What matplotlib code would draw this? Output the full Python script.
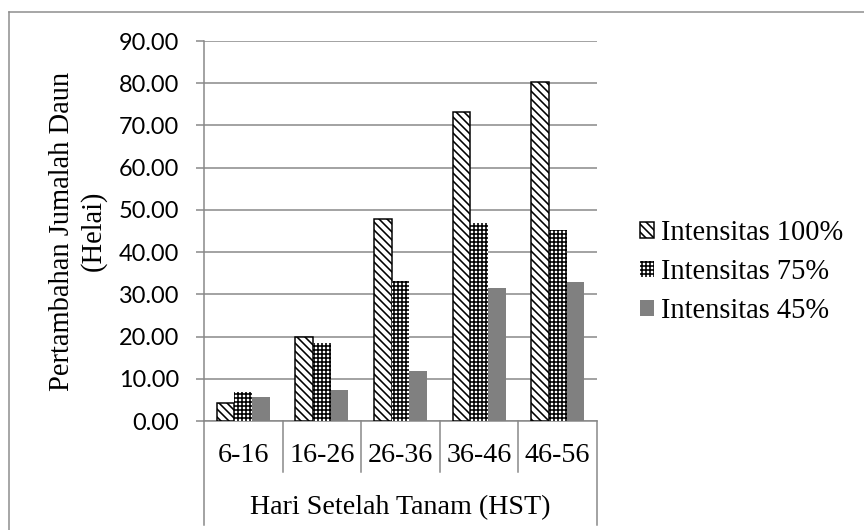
import matplotlib.pyplot as plt
import matplotlib.transforms as mtransforms
from matplotlib.lines import Line2D
import numpy as np

categories = ["6-16", "16-26", "26-36", "36-46", "46-56"]
intensitas_100 = [4.35, 19.9, 47.8, 73.3, 80.3]
intensitas_75 = [6.8, 18.5, 33.2, 46.9, 45.2]
intensitas_45 = [5.6, 7.3, 11.9, 31.4, 32.9]
series_labels = ["Intensitas 100%", "Intensitas 75%", "Intensitas 45%"]
y_ticks = np.arange(0, 91, 10)

serif = "Liberation Serif"
grid_gray = "#878787"
plt.rcParams["hatch.linewidth"] = 1.6

W, H = 864, 530
fig = plt.figure(figsize=(W / 72, H / 72), dpi=72)
ax = fig.add_axes([204 / W, 1 - 421 / H, (597 - 204) / W, (421 - 41) / H])

x = np.arange(len(categories))
bw = 0.224
ax.bar(x - bw, intensitas_100, bw, facecolor="white", edgecolor="black",
       linewidth=1.5, hatch="\\\\\\", label=series_labels[0], zorder=3)
ax.bar(x, intensitas_75, bw, facecolor="white", edgecolor="black",
       linewidth=0, hatch="+++", label=series_labels[1], zorder=3)
ax.bar(x + bw, intensitas_45, bw, facecolor="#808080", edgecolor="none",
       label=series_labels[2], zorder=3)

ax.set_xlim(-0.5, len(categories) - 0.5)
ax.set_ylim(0, 90)
ax.set_yticks(y_ticks)
ax.set_yticklabels([f"{v:.2f}" for v in y_ticks], fontfamily="Lato", fontsize=23.5)
ax.tick_params(axis="y", length=8, width=1.5, color=grid_gray, pad=17)
ax.set_xticks([])
ax.yaxis.grid(True, color=grid_gray, linewidth=1.5, zorder=0)
ax.set_axisbelow(True)
for side in ["top", "right"]:
    ax.spines[side].set_visible(False)
for side in ["left", "bottom"]:
    ax.spines[side].set_color(grid_gray)
    ax.spines[side].set_linewidth(1.5)

# category table below the axis
trans = mtransforms.blended_transform_factory(ax.transData, ax.transAxes)
for b in np.arange(-0.5, len(categories), 1.0):
    outer = b < 0 or b > len(categories) - 1
    y_end = -104 / 380 if outer else -51 / 380
    ax.plot([b, b], [0, y_end], color=grid_gray, linewidth=1.5,
            transform=trans, clip_on=False)
for xi, lab in zip(x, categories):
    ax.text(xi, -34 / 380, lab, transform=trans, ha="center", va="center",
            fontfamily=serif, fontsize=28)
ax.text(0.5, -87 / 380, "Hari Setelah Tanam (HST)", transform=ax.transAxes,
        ha="center", va="center", fontfamily=serif, fontsize=28)

fig.text(78 / W, 1 - 231 / H, "Pertambahan Jumalah Daun\n(Helai)", rotation=90,
         ha="center", va="center", fontfamily=serif, fontsize=28.5)

ax.legend(loc="center left", bbox_to_anchor=(640 / W, 1 - 272 / H),
          bbox_transform=fig.transFigure, frameon=False, borderpad=0,
          borderaxespad=0, handlelength=0.5, handleheight=0.5,
          handletextpad=0.25, labelspacing=0.45,
          prop={"family": serif, "size": 28.5})

# outer chart frame
fx, fy = 9 / W, 1 - 12 / H
fig.add_artist(Line2D([fx, 1.0], [fy, fy], color="#8c8c8c", linewidth=1.5,
                      transform=fig.transFigure))
fig.add_artist(Line2D([fx, fx], [fy, 0.0], color="#8c8c8c", linewidth=1.5,
                      transform=fig.transFigure))

fig.savefig("out.png", dpi=72)
